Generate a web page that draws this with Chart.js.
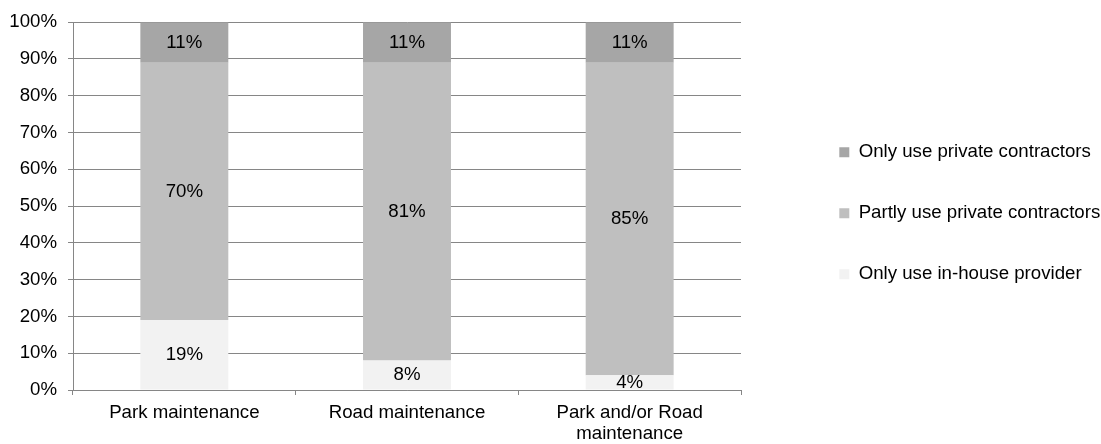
<!DOCTYPE html>
<html><head><meta charset="utf-8">
<script src="https://cdn.jsdelivr.net/npm/chart.js@4/dist/chart.umd.min.js"></script>
<style>html,body{margin:0;padding:0;background:#fff;}canvas{display:block}</style>
</head><body>
<canvas id="c" width="1101" height="444"></canvas>
<script>
const categories = ['Park maintenance', 'Road maintenance', ['Park and/or Road', 'maintenance']];
const seriesNames = ['Only use in-house provider', 'Partly use private contractors', 'Only use private contractors'];
const inHouse = [19, 8, 4];
const partly = [70, 81, 85];
const onlyPrivate = [11, 11, 11];
const yTicks = [0, 10, 20, 30, 40, 50, 60, 70, 80, 90, 100];
const seriesColors = ['#f2f2f2', '#bfbfbf', '#a6a6a6'];

const FONT = '"Liberation Sans", Arial, sans-serif';
const FS = 18.67;
const GRID = '#868686';

const legendPlace = {
  id: 'legendPlace',
  beforeLayout(chart) {
    const lg = chart.legend;
    if (lg && !lg._patched) {
      const f = lg.fit;
      lg.fit = function () { f.call(this); this.width = 360; };
      lg._patched = true;
    }
  },
  afterLayout(chart) {
    const lg = chart.legend;
    if (!lg) return;
    lg.left = 797; lg.right = 1101; lg.top = 100.7; lg.bottom = 444;
  }
};

const valueLabels = {
  id: 'valueLabels',
  afterDatasetsDraw(chart) {
    const ctx = chart.ctx;
    ctx.save();
    ctx.font = FS + 'px ' + FONT;
    ctx.fillStyle = '#000';
    ctx.textAlign = 'center';
    ctx.textBaseline = 'middle';
    chart.data.datasets.forEach((ds, i) => {
      const meta = chart.getDatasetMeta(i);
      meta.data.forEach((bar, j) => {
        const p = bar.getProps(['x', 'y', 'base'], true);
        ctx.fillText(ds.data[j] + '%', p.x, (p.y + p.base) / 2);
      });
    });
    ctx.restore();
  }
};

const seriesData = [inHouse, partly, onlyPrivate];

new Chart(document.getElementById('c'), {
  type: 'bar',
  data: {
    labels: categories,
    datasets: seriesNames.map((n, i) => ({
      label: n,
      data: seriesData[i],
      backgroundColor: seriesColors[i],
      borderWidth: 0,
      categoryPercentage: 1,
      barPercentage: 0.395
    }))
  },
  options: {
    responsive: false,
    animation: false,
    layout: { padding: { left: 0, top: 21, right: 0, bottom: 0 } },
    plugins: {
      legend: {
        position: 'right',
        align: 'start',
        reverse: true,
        labels: { boxWidth: 10, boxHeight: 10, padding: 42.3, color: '#000', font: { family: FONT, size: FS } }
      },
      tooltip: { enabled: false }
    },
    scales: {
      x: {
        stacked: true,
        grid: { drawOnChartArea: false, tickLength: 5, color: GRID },
        border: { color: GRID },
        afterFit: s => { s.height = 54; },
        ticks: { color: '#000', padding: 7, maxRotation: 0, autoSkip: false, font: { family: FONT, size: FS, lineHeight: 1.12 } }
      },
      y: {
        stacked: true,
        min: 0, max: 100,
        afterBuildTicks: s => { s.ticks = yTicks.map(v => ({ value: v })); },
        afterFit: s => { s.width = 73; },
        grid: { color: GRID, tickLength: 5 },
        border: { color: GRID },
        ticks: { color: '#000', padding: 11, callback: v => v + '%', font: { family: FONT, size: FS } }
      }
    }
  },
  plugins: [legendPlace, valueLabels]
});
</script>
</body></html>
